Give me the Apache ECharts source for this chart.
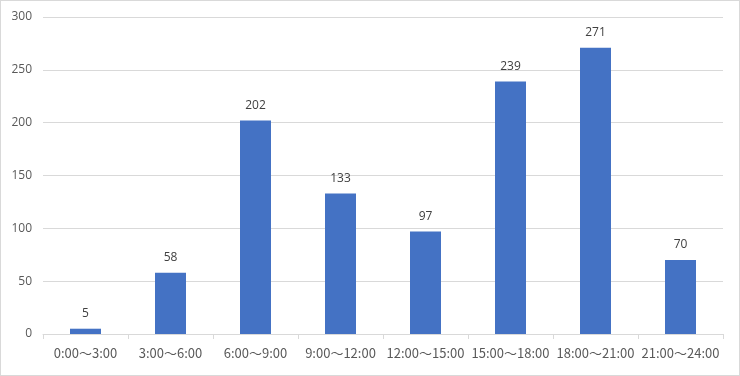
<!DOCTYPE html>
<html>
<head>
<meta charset="utf-8">
<script src="https://cdn.jsdelivr.net/npm/echarts@6/dist/echarts.min.js"></script>
<style>
  html, body { margin: 0; padding: 0; background: #fff; }
  #main { width: 738px; height: 374px; border: 1px solid #d9d9d9; }
</style>
</head>
<body>
<div id="main"></div>
<script>
const categories = ["0:00～3:00", "3:00～6:00", "6:00～9:00", "9:00～12:00", "12:00～15:00", "15:00～18:00", "18:00～21:00", "21:00～24:00"];
const counts = [5, 58, 202, 133, 97, 239, 271, 70];
const yTicks = { min: 0, max: 300, interval: 50 };

const chart = echarts.init(document.getElementById("main"), null, { renderer: "canvas" });

const option = {
  animation: false,
  grid: {
    left: 42,
    right: 16,
    top: 16,
    bottom: 41,
  },
  xAxis: {
    type: "category",
    data: categories,
    axisLine: { lineStyle: { color: "#d9d9d9" } },
    axisTick: { show: true, length: 5, lineStyle: { color: "#d9d9d9" } },
    axisLabel: {
      color: "#595959",
      fontSize: 13,
      margin: 13,
      interval: 0,
      fontFamily: "Noto Sans CJK JP",
    },
  },
  yAxis: {
    type: "value",
    min: yTicks.min,
    max: yTicks.max,
    interval: yTicks.interval,
    axisLine: { show: false },
    axisTick: { show: false },
    splitLine: { lineStyle: { color: "#d9d9d9" } },
    axisLabel: {
      color: "#595959",
      fontSize: 12,
      margin: 11,
      fontFamily: "Open Sans",
    },
  },
  series: [
    {
      name: "件数",
      type: "bar",
      data: counts,
      barWidth: 31,
      itemStyle: { color: "#4472c4" },
      label: {
        show: true,
        position: "top",
        distance: 9,
        color: "#404040",
        fontSize: 12,
        fontFamily: "Open Sans",
      },
    },
  ],
};

chart.setOption(option, true);
</script>
</body>
</html>
